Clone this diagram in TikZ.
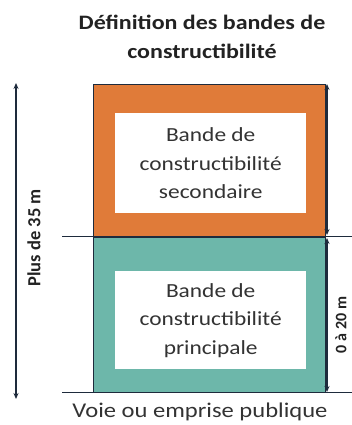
\documentclass[tikz,border=0pt]{standalone}
\usepackage{fontspec}
\setmainfont{Carlito}[FakeStretch=1.17]
\newfontfamily\plainfont{Carlito}
\usetikzlibrary{arrows.meta}
\definecolor{orangeC}{HTML}{E07B39}
\definecolor{tealC}{HTML}{6DB7AA}
\definecolor{lineC}{HTML}{1E2B3C}
\definecolor{txtC}{HTML}{333333}
\definecolor{titleC}{HTML}{222222}
\tikzset{
  band/.style={draw=lineC, line width=0.6pt, anchor=north west, inner sep=0pt},
  innerbox/.style={fill=white, anchor=north west, inner sep=0pt, text=txtC, align=center, font=\fontsize{20}{28.5}\selectfont},
  baseline/.style={draw=lineC, line width=1.6pt},
  dim/.style={draw=lineC, line width=1.2pt, {Stealth[length=6pt,width=5pt]}-{Stealth[length=6pt,width=5pt]}},
  lbl/.style={text=txtC, inner sep=0pt}
}
\begin{document}
\begin{tikzpicture}[x=1pt,y=-1pt]
\useasboundingbox (0,0) rectangle (352,425);
% title
\node[lbl, text=titleC, font=\bfseries\fontsize{20.5}{29}\selectfont, align=center] (title) at (202,37) {Définition des bandes de\\constructibilité};
% bands
\node[band, fill=orangeC, minimum width=232pt, minimum height=152pt] (sec) at (93,84) {};
\node[band, fill=tealC, minimum width=232pt, minimum height=155pt] (pri) at (93,237) {};
\node[innerbox, minimum width=191pt, minimum height=100pt] (secin) at (115,113) {Bande de\\constructibilité\\secondaire};
\node[innerbox, minimum width=191pt, minimum height=98pt] (priin) at (115,271) {Bande de\\constructibilité\\principale};
% lines
\coordinate (l1a) at (62,236.5);
\coordinate (l1b) at (352,236.5);
\coordinate (l2a) at (62,392.5);
\coordinate (l2b) at (352,392.5);
\draw[baseline] (l1a) -- (l1b);
\draw[baseline] (l2a) -- (l2b);
% right dimension arrows
\coordinate (r1) at (327,84);
\coordinate (r2) at (327,235);
\coordinate (r3) at (327,238);
\coordinate (r4) at (327,392);
\draw[dim] (r1) -- (r2);
\draw[dim] (r3) -- (r4);
\node[lbl, text=titleC, rotate=90, font=\plainfont\bfseries\fontsize{16}{18}\selectfont] (d20) at (341,325) {0 à 20 m};
% left dimension arrow
\coordinate (lt) at (16,83);
\coordinate (lb) at (16,399);
\draw[dim] (lt) -- (lb);
\node[lbl, text=titleC, rotate=90, font=\plainfont\bfseries\fontsize{18.5}{20}\selectfont] (d35) at (34,238) {Plus de 35 m};
% bottom label
\node[lbl, font=\fontsize{21}{24}\selectfont] (voie) at (200,412) {Voie ou emprise publique};
\end{tikzpicture}
\end{document}
